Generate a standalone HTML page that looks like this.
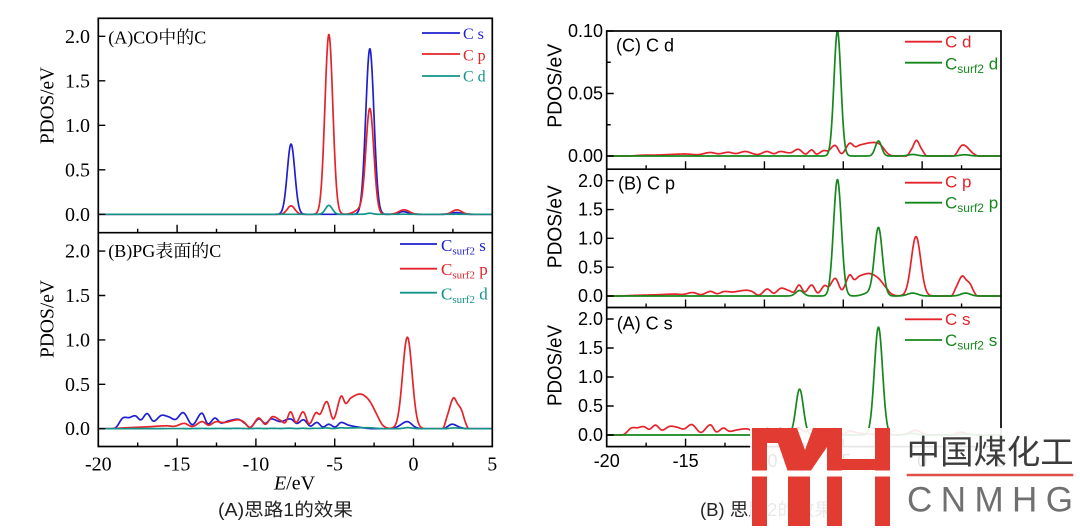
<!DOCTYPE html>
<html><head><meta charset="utf-8">
<style>
html,body{margin:0;padding:0;background:#fff;}
svg{display:block;}
.tl{font-family:"Liberation Serif","Noto Serif CJK SC",serif;}
.sa{font-family:"Liberation Sans",sans-serif;}
.cj{font-family:"Liberation Sans","Noto Sans CJK SC",sans-serif;}
</style></head><body>
<svg id="s" width="1080" height="529" viewBox="0 0 1080 529" xmlns="http://www.w3.org/2000/svg">
<defs>
<clipPath id="cL1"><rect x="98.3" y="18.3" width="394" height="214.4"/></clipPath>
<clipPath id="cL2"><rect x="98.3" y="232.7" width="394" height="213.8"/></clipPath>
<clipPath id="cR1"><rect x="606.7" y="31" width="394.3" height="138.2"/></clipPath>
<clipPath id="cR2"><rect x="606.7" y="169.2" width="394.3" height="138.3"/></clipPath>
<clipPath id="cR3"><rect x="606.7" y="307.5" width="394.3" height="139.1"/></clipPath>
</defs>
<rect width="1080" height="529" fill="#fff"/>

<g id="curves" fill="none" stroke-width="1.7" stroke-linejoin="round"></g>
<g id="ticks" fill="none" stroke="#000" stroke-width="1.4"></g>

<!-- frames -->
<g fill="none" stroke="#000" stroke-width="1.7">
<rect x="98.3" y="18.3" width="394" height="428.2"/>
<line x1="98.3" y1="232.7" x2="492.3" y2="232.7"/>
<rect x="606.7" y="31" width="394.3" height="415.6"/>
<line x1="606.7" y1="169.2" x2="1001" y2="169.2"/>
<line x1="606.7" y1="307.5" x2="1001" y2="307.5"/>
</g>

<!-- LEFT PANEL TEXT -->
<g class="tl" font-size="20" fill="#000" text-anchor="end">
<text x="90" y="42.8">2.0</text><text x="90" y="87.3">1.5</text><text x="90" y="131.8">1.0</text><text x="90" y="176.3">0.5</text><text x="90" y="220.8">0.0</text>
<text x="90" y="257.6">2.0</text><text x="90" y="302">1.5</text><text x="90" y="346.4">1.0</text><text x="90" y="390.8">0.5</text><text x="90" y="435.2">0.0</text>
</g>
<g class="tl" font-size="20" fill="#000" text-anchor="middle">
<text x="98.3" y="470.7">-20</text><text x="177.1" y="470.7">-15</text><text x="255.9" y="470.7">-10</text><text x="334.7" y="470.7">-5</text><text x="413.5" y="470.7">0</text><text x="492.3" y="470.7">5</text>
<text x="294.5" y="489.5"><tspan font-style="italic">E</tspan>/eV</text>
<text transform="translate(53.3,105.5) rotate(-90)" textLength="77" lengthAdjust="spacingAndGlyphs">PDOS/eV</text>
<text transform="translate(53.3,319) rotate(-90)" textLength="78" lengthAdjust="spacingAndGlyphs">PDOS/eV</text>
</g>
<g class="tl" fill="#000">
<text x="108.3" y="43.3" font-size="17.5" textLength="98" lengthAdjust="spacingAndGlyphs">(A)CO中的C</text>
<text x="108.3" y="257" font-size="17.5" textLength="113" lengthAdjust="spacingAndGlyphs">(B)PG表面的C</text>
</g>
<!-- left legends -->
<g stroke-width="1.8">
<line x1="422" y1="33" x2="460" y2="33" stroke="#1f1fd0"/>
<line x1="422" y1="54" x2="460" y2="54" stroke="#e4232a"/>
<line x1="422" y1="76" x2="460" y2="76" stroke="#13938a"/>
<line x1="400" y1="244" x2="437" y2="244" stroke="#1f1fd0"/>
<line x1="400" y1="268.7" x2="437" y2="268.7" stroke="#e4232a"/>
<line x1="400" y1="292.7" x2="437" y2="292.7" stroke="#13938a"/>
</g>
<g class="tl" font-size="16">
<text x="463" y="39" fill="#1f1fd0">C s</text>
<text x="463" y="60.5" fill="#e4232a">C p</text>
<text x="463" y="81.5" fill="#13938a">C d</text>
</g>
<g class="tl" font-size="17">
<text x="441" y="251" fill="#1f1fd0">C<tspan font-size="11" dy="3.5">surf2</tspan><tspan dy="-3.5"> s</tspan></text>
<text x="441" y="275" fill="#e4232a">C<tspan font-size="11" dy="3.5">surf2</tspan><tspan dy="-3.5"> p</tspan></text>
<text x="441" y="299.3" fill="#13938a">C<tspan font-size="11" dy="3.5">surf2</tspan><tspan dy="-3.5"> d</tspan></text>
</g>
<text class="cj" x="218" y="516" font-size="18" fill="#222" textLength="135" lengthAdjust="spacingAndGlyphs">(A)思路1的效果</text>

<!-- RIGHT PANEL TEXT -->
<g class="sa" font-size="18" fill="#000" text-anchor="end">
<text x="603" y="37.2">0.10</text><text x="603" y="99.7">0.05</text><text x="603" y="162.2">0.00</text>
<text x="603" y="186.9">2.0</text><text x="603" y="215.7">1.5</text><text x="603" y="244.6">1.0</text><text x="603" y="273.4">0.5</text><text x="603" y="302.2">0.0</text>
<text x="603" y="325.2">2.0</text><text x="603" y="354.2">1.5</text><text x="603" y="383.2">1.0</text><text x="603" y="412.2">0.5</text><text x="603" y="441.2">0.0</text>
</g>
<g class="sa" font-size="18" fill="#000" text-anchor="middle">
<text x="606.7" y="467">-20</text><text x="685.6" y="467">-15</text><text x="764.5" y="467">-10</text><text x="843.3" y="467">-5</text><text x="922.2" y="467">0</text><text x="1001" y="467">5</text>
</g>
<g class="sa" font-size="20" fill="#000" text-anchor="middle">
<text transform="translate(561.7,85.8) rotate(-90)" textLength="84" lengthAdjust="spacingAndGlyphs">PDOS/eV</text>
<text transform="translate(561.7,226.7) rotate(-90)" textLength="83" lengthAdjust="spacingAndGlyphs">PDOS/eV</text>
<text transform="translate(561.7,365.5) rotate(-90)" textLength="81" lengthAdjust="spacingAndGlyphs">PDOS/eV</text>
</g>
<g class="sa" font-size="18" fill="#000">
<text x="616" y="51.7">(C) C d</text>
<text x="618" y="189.3">(B) C p</text>
<text x="616.7" y="329.3">(A) C s</text>
</g>
<g stroke-width="1.8">
<line x1="905" y1="41.7" x2="942" y2="41.7" stroke="#e4232a"/>
<line x1="905" y1="62.7" x2="942" y2="62.7" stroke="#16871c"/>
<line x1="905" y1="182.7" x2="942" y2="182.7" stroke="#e4232a"/>
<line x1="905" y1="202.7" x2="942" y2="202.7" stroke="#16871c"/>
<line x1="905" y1="319.3" x2="942" y2="319.3" stroke="#e4232a"/>
<line x1="905" y1="340" x2="942" y2="340" stroke="#16871c"/>
</g>
<g class="sa" font-size="17">
<text x="945" y="47.3" fill="#e4232a">C d</text>
<text x="945" y="69.3" fill="#16871c">C<tspan font-size="12" dy="3.5">surf2</tspan><tspan dy="-3.5"> d</tspan></text>
<text x="945" y="187.3" fill="#e4232a">C p</text>
<text x="945" y="208.3" fill="#16871c">C<tspan font-size="12" dy="3.5">surf2</tspan><tspan dy="-3.5"> p</tspan></text>
<text x="945" y="325" fill="#e4232a">C s</text>
<text x="945" y="346" fill="#16871c">C<tspan font-size="12" dy="3.5">surf2</tspan><tspan dy="-3.5"> s</tspan></text>
</g>
<text class="cj" x="700" y="516" font-size="18" fill="#222" textLength="133" lengthAdjust="spacingAndGlyphs">(B) 思路2的效果</text>

<!-- LOGO OVERLAY -->
<rect x="750" y="428" width="330" height="101" fill="#fff" fill-opacity="0.9"/>
<g fill="#e23b32">
<rect x="752" y="428" width="15" height="98"/>
<rect x="752" y="428" width="30" height="15"/>
<polygon points="776,428 797,428 805,450 813,428 842,428 842,526 827,526 827,447 810,472 810,526 788,526 788,472 778,443"/>
<rect x="842" y="459" width="33" height="11"/>
<rect x="875" y="428" width="15" height="98"/>
</g>
<rect x="750" y="470.5" width="142" height="6" fill="#fff"/>
<text x="906.7" y="463.5" font-size="33" fill="#3c3c3c" style="font-family:'Noto Sans CJK SC',sans-serif" textLength="167" lengthAdjust="spacingAndGlyphs">中国煤化工</text>
<line x1="906.7" y1="475" x2="1073.3" y2="475" stroke="#e05048" stroke-width="2.5"/>
<text class="sa" x="907" y="511.7" font-size="35" fill="#707070" textLength="166" lengthAdjust="spacing">CNMHG</text>
</svg>
<script>
(function(){
var NS="http://www.w3.org/2000/svg";
var CO_s={g:[[-7.77,0.79,0.24],[-2.77,1.86,0.26],[-0.65,0.03,0.3],[2.72,0.02,0.3]]};
var CO_p={g:[[-7.77,0.095,0.24],[-5.37,2.02,0.25],[-2.77,1.18,0.25],[-3.4,0.05,0.35],[-0.6,0.05,0.33],[2.75,0.05,0.3]]};
var CO_d={g:[[-5.37,0.1,0.22],[-2.77,0.012,0.2],[-0.6,0.0012,0.3],[2.7,0.001,0.3]]};
var PG_s={p:[[-20,0],[-19.1,0],[-18.85,0.02],[-18.45,0.12],[-18.05,0.125],[-17.65,0.145],[-17.3,0.1],[-16.9,0.17],[-16.5,0.085],[-16.0,0.15],[-15.55,0.135],[-15.1,0.105],[-14.6,0.18],[-14.03,0.045],[-13.43,0.175],[-13.05,0.055],[-12.6,0.12],[-12.22,0.065],[-11.7,0.09],[-11.1,0.105],[-10.7,0.06],[-10.35,0.015],[-9.83,0.11],[-9.4,0.06],[-9.04,0.11],[-8.45,0.08],[-7.8,0.11],[-7.4,0.06],[-6.97,0.1],[-6.55,0.03],[-6.13,0.07],[-5.75,0.02],[-5.38,0.05],[-4.96,0.02],[-4.6,0.07],[-4.12,0.04],[-3.4,0.015],[-2.6,0],[-1.5,0],[-1.05,0.02],[-0.4,0.08],[0.1,0.02],[0.5,0],[1.9,0],[2.44,0.05],[2.97,0.015],[3.4,0],[5,0]]};
var PG_p={p:[[-20,0],[-19.2,0],[-18.3,0.01],[-17.0,0.02],[-15.7,0.033],[-15.15,0.028],[-14.55,0.06],[-14.02,0.025],[-13.42,0.08],[-13.0,0.04],[-12.55,0.078],[-12.0,0.07],[-11.18,0.1],[-10.8,0.08],[-10.35,0.015],[-9.83,0.12],[-9.4,0.05],[-8.95,0.135],[-8.45,0.095],[-8.13,0.07],[-7.8,0.19],[-7.45,0.07],[-7.0,0.19],[-6.62,0.055],[-6.2,0.18],[-5.92,0.165],[-5.5,0.305],[-5.08,0.11],[-4.6,0.365],[-4.3,0.285],[-3.98,0.345],[-3.45,0.39],[-3.1,0.37],[-2.74,0.3],[-2.3,0.15],[-2.0,0.05],[-1.7,0.01],[-1.3,0.003],[0.6,0],[1.85,0],[2.15,0.15],[2.52,0.345],[2.8,0.28],[3.05,0.21],[3.28,0.08],[3.5,0],[5,0]],g:[[-0.39,1.03,0.3]]};
var PG_d={p:[[-20,0],[-18.6,0],[-17.8,0.0006],[-16.8,0.0008],[-16,0.0012],[-15,0.0016],[-14.2,0.0011],[-13.45,0.0028],[-12.9,0.0018],[-12.3,0.003],[-11.8,0.002],[-11.2,0.0036],[-10.45,0.0012],[-9.85,0.0036],[-9.4,0.0019],[-9.0,0.0036],[-8.35,0.0026],[-7.85,0.0054],[-7.4,0.0016],[-7.0,0.0049],[-6.7,0.0016],[-6.26,0.0043],[-5.95,0.0043],[-5.52,0.0085],[-5.1,0.002],[-4.6,0.0102],[-4.25,0.0075],[-3.9,0.009],[-3.1,0.0108],[-2.67,0.0093],[-2.14,0.0016],[-1.7,0],[-1.0,0],[-0.65,0.006],[-0.36,0.0125],[-0.05,0.006],[0.3,0],[2.0,0],[2.57,0.0088],[3.25,0.002],[3.57,0],[5,0]]};

function mkf(S){
  var P=S.p||[],G=S.g||[],n=P.length,m=[];
  for(var i=0;i<n;i++){
    if(i==0||i==n-1)m.push(0);
    else m.push((P[i+1][1]-P[i-1][1])/(P[i+1][0]-P[i-1][0]));
  }
  return function(E){
    var v=0;
    if(n>1&&E>=P[0][0]&&E<=P[n-1][0]){
      var i=0;while(i<n-2&&E>P[i+1][0])i++;
      var x0=P[i][0],x1=P[i+1][0],h=x1-x0,t=(E-x0)/h,t2=t*t,t3=t2*t;
      v=(2*t3-3*t2+1)*P[i][1]+(t3-2*t2+t)*h*m[i]+(-2*t3+3*t2)*P[i+1][1]+(t3-t2)*h*m[i+1];
    }
    for(var k=0;k<G.length;k++){var g=G[k],d=(E-g[0])/g[2];v+=g[1]*Math.exp(-0.5*d*d);}
    return Math.max(v,0);
  };
}
var XL=function(E){return 98.3+(E+20)*15.76;};
var XR=function(E){return 606.7+(E+20)*15.772;};
var grp=document.getElementById("curves");
function draw(S,X,Y,col,clip){
  var f=mkf(S),d="";
  for(var j=0;j<=1250;j++){var E=-20+j*0.02;d+=(j?"L":"M")+X(E).toFixed(2)+","+Y(f(E)).toFixed(2);}
  var p=document.createElementNS(NS,"path");
  p.setAttribute("d",d);p.setAttribute("stroke",col);p.setAttribute("clip-path","url(#"+clip+")");
  grp.appendChild(p);
}
var B="#1f1fd0",R="#e4232a",T="#13938a",Gn="#16871c";
var YL1=function(v){return 214.3-v*89;},YL2=function(v){return 428.7-v*88.8;};
var YR1=function(v){return 156-v*1250;},YR2=function(v){return 296-v*57.65;},YR3=function(v){return 435-v*58;};
draw(CO_s,XL,YL1,B,"cL1");draw(CO_p,XL,YL1,R,"cL1");draw(CO_d,XL,YL1,T,"cL1");
draw(PG_s,XL,YL2,B,"cL2");draw(PG_p,XL,YL2,R,"cL2");draw(PG_d,XL,YL2,T,"cL2");
draw(PG_d,XR,YR1,R,"cR1");draw(CO_d,XR,YR1,Gn,"cR1");
draw(PG_p,XR,YR2,R,"cR2");draw(CO_p,XR,YR2,Gn,"cR2");
draw(PG_s,XR,YR3,R,"cR3");draw(CO_s,XR,YR3,Gn,"cR3");

var td="";
function ln(x1,y1,x2,y2){td+="M"+x1.toFixed(2)+","+y1.toFixed(2)+"L"+x2.toFixed(2)+","+y2.toFixed(2);}
var vals=[0,0.5,1,1.5,2],i;
for(i=0;i<5;i++){ln(98.3,YL1(vals[i]),105.3,YL1(vals[i]));ln(98.3,YL2(vals[i]),105.3,YL2(vals[i]));
  ln(606.7,YR2(vals[i]),613.7,YR2(vals[i]));ln(606.7,YR3(vals[i]),613.7,YR3(vals[i]));}
[0,0.05,0.1].forEach(function(v){ln(606.7,YR1(v),613.7,YR1(v));});
[0.025,0.075].forEach(function(v){ln(606.7,YR1(v),610.7,YR1(v));});
for(var E=-17.5;E<5;E+=2.5){
  var major=(Math.abs(E/5-Math.round(E/5))<1e-6),L=major?8:4;
  [232.7,446.5].forEach(function(y){ln(XL(E),y,XL(E),y-L);});
  [169.2,307.5,446.6].forEach(function(y){ln(XR(E),y,XR(E),y-L);});
}
var tp=document.createElementNS(NS,"path");tp.setAttribute("d",td);
document.getElementById("ticks").appendChild(tp);
})();
</script>
</body></html>
